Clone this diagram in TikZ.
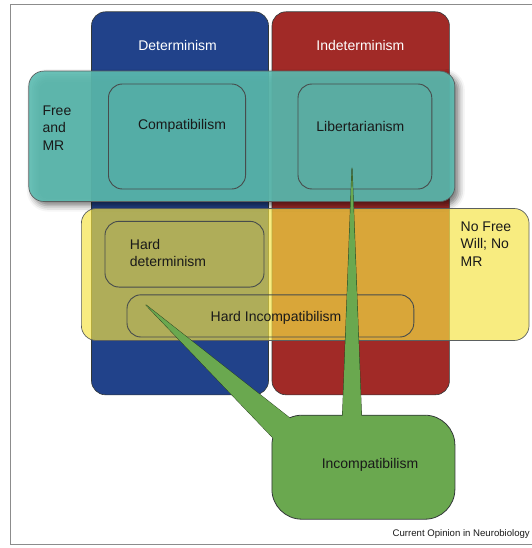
\documentclass[tikz,border=0pt]{standalone}
\usepackage{fontspec}
\setmainfont{Liberation Sans}
\usepackage{tikz}
\usetikzlibrary{shadows.blur}
\definecolor{detblue}{RGB}{33,66,138}
\definecolor{indetred}{RGB}{161,42,39}
\definecolor{freeteal}{RGB}{92,189,178}
\definecolor{nofreeyellow}{RGB}{245,227,66}
\definecolor{incgreen}{RGB}{106,168,79}
\definecolor{edgegray}{RGB}{50,56,56}
\definecolor{framegray}{RGB}{140,140,140}
\tikzstyle{txt} = [inner sep=0pt, text=black!90, font=\fontsize{14}{17.6}\selectfont]
\tikzstyle{column} = [rectangle, rounded corners=14pt, draw=edgegray, line width=0.6pt, minimum width=177pt, minimum height=383pt, inner sep=0pt]
\tikzstyle{coltitle} = [txt, text=white]
\tikzstyle{band} = [rectangle, rounded corners=15pt, draw=edgegray!80, line width=0.7pt, inner sep=0pt]
\tikzstyle{freeband} = [band, fill=freeteal, fill opacity=0.9, blur shadow={shadow xshift=4pt, shadow yshift=-4pt, shadow blur radius=6pt, shadow opacity=60}]
\tikzstyle{nofreeband} = [band, fill=nofreeyellow, fill opacity=0.67]
\tikzstyle{school} = [rectangle, rounded corners=14pt, draw=edgegray!90, line width=0.9pt, inner sep=0pt]
\tikzstyle{callout} = [rectangle, rounded corners=30pt, draw=edgegray, line width=0.8pt, fill=incgreen, minimum width=183pt, minimum height=104pt, inner sep=0pt]
\tikzstyle{wedgeedge} = [draw=incgreen!40!black, line width=0.9pt, line join=round]
\tikzstyle{wedgefill} = [fill=incgreen]

\begin{document}
\begin{tikzpicture}[x=1pt, y=-1pt]
\useasboundingbox (0,0) rectangle (531,548);
% page frame (right side runs off)
\draw[framegray, line width=0.8pt] (10,544) -- (10,4.4) -- (540,4.4);
\draw[framegray, line width=0.8pt] (10,544) -- (540,544);
% columns
\node[column, fill=detblue] (det) at (180,203.3) {};
\node[column, fill=indetred, minimum width=177.4pt] (indet) at (360.7,203.3) {};
\node[coltitle] (dettitle) at (177.6,45.7) {Determinism};
\node[coltitle] (indettitle) at (360.4,45.7) {Indeterminism};
% bands
\node[freeband, minimum width=426pt, minimum height=130.4pt] (free) at (241.8,136.3) {};
\node[nofreeband, minimum width=447.7pt, minimum height=132pt] (nofree) at (305.2,274.5) {};
% positions inside the bands
\node[school, minimum width=137.1pt, minimum height=105pt] (compatbox) at (177,136.5) {};
\node[school, minimum width=133.8pt, minimum height=105pt] (libbox) at (364.9,136.5) {};
\node[school, minimum width=159pt, minimum height=65.7pt] (harddetbox) at (184.5,254.2) {};
\node[school, minimum width=286.8pt, minimum height=42.2pt] (hardincbox) at (270.4,315.9) {};
% labels
\node[txt, align=left, anchor=west] (freelabel) at (42.3,128) {Free\\and\\MR};
\node[txt] (compat) at (182,126) {Compatibilism};
\node[txt] (lib) at (360.4,126) {Libertarianism};
\node[txt, align=left, anchor=west] (harddet) at (129.7,253) {Hard\\determinism};
\node[txt] (hardinc) at (276,317.8) {Hard Incompatibilism};
\node[txt, align=left, anchor=west] (nofreelabel) at (460.5,244) {No Free\\Will; No\\MR};
% incompatibilism callout: wedge edges, box, then wedge fills
\coordinate (libtip) at (352,168);
\coordinate (hardtip) at (146,305);
\coordinate (incnw) at (271.9,415.2);
\coordinate (libfoot) at (352,429);
\draw[wedgeedge] (hardtip) -- ([xshift=32pt,yshift=-14pt]incnw) -- ([xshift=12pt,yshift=-34pt]incnw) -- cycle;
\draw[wedgeedge] (libtip) -- ([xshift=-10pt]libfoot) -- ([xshift=10pt]libfoot) -- cycle;
\node[callout] (incompat) at (363.4,467.2) {};
\fill[wedgefill] (libtip) -- ([xshift=-10pt]libfoot) -- ([xshift=10pt]libfoot) -- cycle;
\fill[wedgefill] (hardtip) -- ([xshift=32pt,yshift=-14pt]incnw) -- ([xshift=12pt,yshift=-34pt]incnw) -- cycle;
\node[txt] (incompattext) at (370,465) {Incompatibilism};
% source line
\node[txt, anchor=east, font=\fontsize{9.6}{11}\selectfont] (source) at (530,534) {Current Opinion in Neurobiology};
\end{tikzpicture}
\end{document}
